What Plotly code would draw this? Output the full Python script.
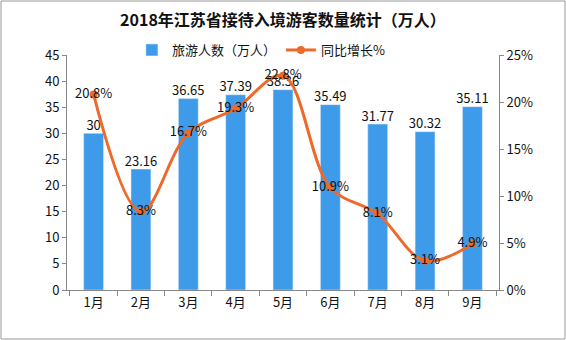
import plotly.graph_objects as go

months = ["1月", "2月", "3月", "4月", "5月", "6月", "7月", "8月", "9月"]
visitors = [30, 23.16, 36.65, 37.39, 38.36, 35.49, 31.77, 30.32, 35.11]
growth = [20.8, 8.3, 16.7, 19.3, 22.8, 10.9, 8.1, 3.1, 4.9]

bar_labels = [f"{v:g}" for v in visitors]
growth_labels = [f"{g}%" for g in growth]

font_main = "Noto Sans CJK SC"

fig = go.Figure()
fig.add_trace(go.Bar(
    x=months, y=visitors, name="旅游人数（万人）",
    marker_color="#3d9be9", width=0.42,
))
fig.add_trace(go.Scatter(
    x=months, y=visitors, mode="text", showlegend=False, hoverinfo="skip",
    text=bar_labels, textposition="top center", cliponaxis=False,
    textfont=dict(size=13, color="#111111", family=font_main),
))
fig.add_trace(go.Scatter(
    x=months, y=[g / 100 for g in growth], name="同比增长%", yaxis="y2",
    mode="lines+markers+text", line=dict(color="#ee6a2a", width=3, shape="spline", smoothing=1.0),
    marker=dict(size=8, color="#ee6a2a"),
    text=growth_labels, textposition="middle center", cliponaxis=False,
    textfont=dict(size=13, color="#111111", family=font_main),
))

axis_common = dict(showline=True, linecolor="#888888", linewidth=1, ticks="outside",
                   tickcolor="#888888", ticklen=4, showgrid=False, zeroline=False,
                   tickfont=dict(size=13, color="#111111", family=font_main))

fig.update_layout(
    width=566, height=340,
    margin=dict(l=67, r=67, t=55, b=50),
    paper_bgcolor="white", plot_bgcolor="white",
    title=dict(text="<b>2018年江苏省接待入境游客数量统计（万人）</b>", x=0.5, xanchor="center",
               y=1 - 20 / 340, yanchor="middle",
               font=dict(size=16, color="#111111", family=font_main)),
    showlegend=True,
    legend=dict(orientation="h", x=0.45, xanchor="center", y=(290 - 50) / 235, yanchor="middle",
                font=dict(size=13, color="#111111", family=font_main), bgcolor="rgba(0,0,0,0)"),
    xaxis=dict(axis_common, tickson="boundaries", ticklen=5),
    yaxis=dict(axis_common, range=[0, 45], dtick=5),
    yaxis2=dict(axis_common, range=[0, 0.25], dtick=0.05, tickformat=".0%", overlaying="y", side="right"),
    bargap=0.5,
    shapes=[dict(type="rect", xref="paper", yref="paper",
                 x0=(1 - 67) / 432, x1=(565 - 67) / 432,
                 y0=(290 - 339) / 235, y1=(290 - 1) / 235,
                 line=dict(color="#999999", width=1), fillcolor="rgba(0,0,0,0)", layer="below")],
)

fig.write_html("out.html")
